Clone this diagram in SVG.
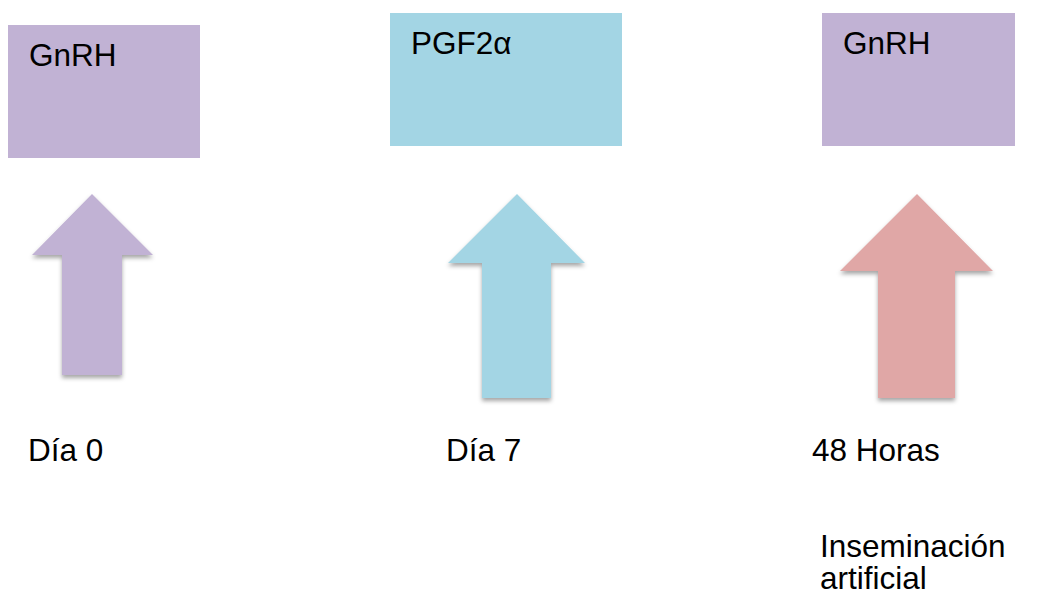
<svg xmlns="http://www.w3.org/2000/svg" width="1042" height="597" viewBox="0 0 1042 597">
<style>
.t{font-family:"Liberation Sans",Arial,sans-serif;font-size:31.5px;fill:#000}
.pu{fill:#C1B2D4}
.bl{fill:#A3D5E4}
.pk{fill:#E0A7A6}
</style>
<defs>
<filter id="sh" x="-20%" y="-20%" width="140%" height="140%">
<feDropShadow dx="0" dy="3" stdDeviation="2" flood-color="#000" flood-opacity="0.35"/>
</filter>
</defs>
<rect width="1042" height="597" fill="#fff"/>
<g id="box-gnrh1">
<rect class="pu" x="8" y="25" width="192" height="133"/>
<text class="t" x="29" y="66">GnRH</text>
</g>
<g id="box-pgf">
<rect class="bl" x="390" y="13" width="232" height="133"/>
<text class="t" x="411" y="54">PGF2α</text>
</g>
<g id="box-gnrh2">
<rect class="pu" x="822" y="13" width="193" height="133"/>
<text class="t" x="843" y="54">GnRH</text>
</g>
<g id="connectors">
<polygon class="pu" filter="url(#sh)" points="92,194 153,255 122,255 122,375 62,375 62,255 32,255"/>
<polygon class="bl" filter="url(#sh)" points="517,194 585,263 551,263 551,398 482,398 482,263 448,263"/>
<polygon class="pk" filter="url(#sh)" points="917,194 993,271 955,271 955,398 878,398 878,271 840,271"/>
</g>
<g id="labels">
<text class="t" x="28" y="461">Día 0</text>
<text class="t" x="446" y="461">Día 7</text>
<text class="t" x="812" y="461">48 Horas</text>
<text class="t" x="820" y="557">Inseminación</text>
<text class="t" x="820" y="589">artificial</text>
</g>
</svg>
